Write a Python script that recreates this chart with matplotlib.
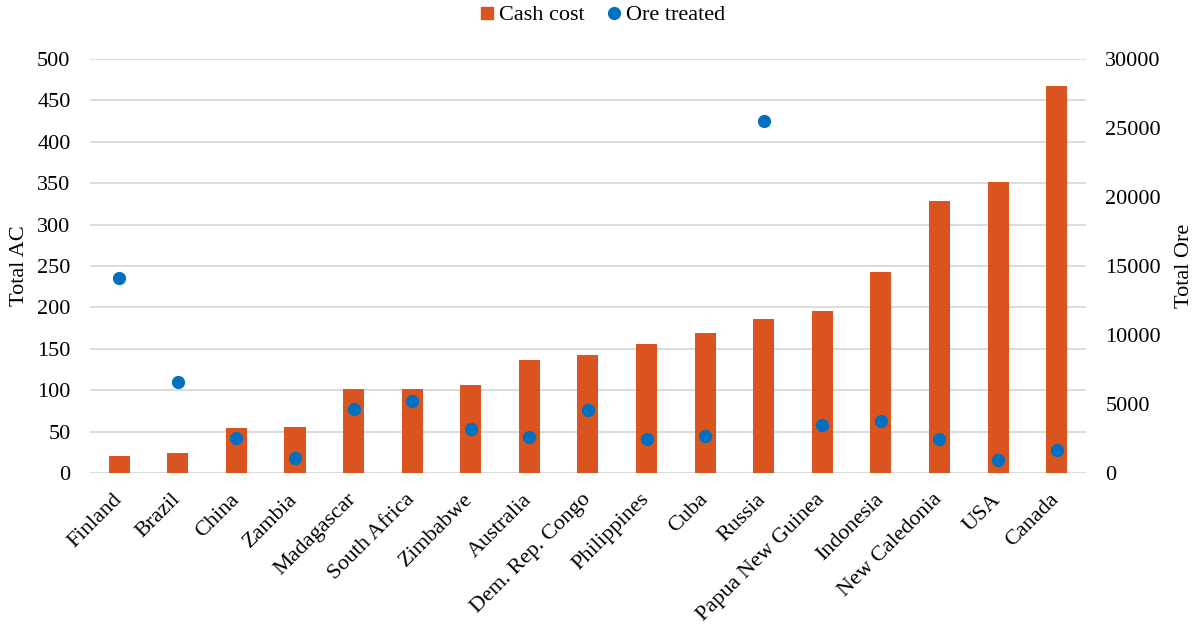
import matplotlib
matplotlib.use("Agg")
import matplotlib.pyplot as plt
from matplotlib.lines import Line2D
from matplotlib.transforms import ScaledTranslation

countries = ["Finland", "Brazil", "China", "Zambia", "Madagascar", "South Africa",
             "Zimbabwe", "Australia", "Dem. Rep. Congo", "Philippines", "Cuba",
             "Russia", "Papua New Guinea", "Indonesia", "New Caledonia", "USA", "Canada"]
cash_cost = [21, 24, 54, 56, 101, 102, 106, 137, 142, 156, 169, 186, 196, 243, 329, 352, 467]
ore_treated = [14130, 6570, 2540, 1060, 4660, 5190, 3160, 2630, 4540, 2460, 2680,
               25500, 3480, 3770, 2440, 920, 1670]

left_ticks = [0, 50, 100, 150, 200, 250, 300, 350, 400, 450, 500]
right_ticks = [0, 5000, 10000, 15000, 20000, 25000, 30000]

plt.rcParams["font.family"] = ["Liberation Serif", "DejaVu Serif"]

ORANGE = "#D9541E"
BLUE = "#0070C0"
GRID = "#D9D9D9"
FS = 16

fig = plt.figure(figsize=(12.01, 6.27), dpi=100)
ax = fig.add_axes([0.0749, 0.2456, 0.9042 - 0.0749, 0.9059 - 0.2456])
ax2 = ax.twinx()

x = list(range(len(countries)))
ax.bar(x, cash_cost, width=0.36, color=ORANGE, zorder=2)
ax2.plot(x, ore_treated, linestyle="none", marker="o", markersize=8.5,
         color=BLUE, zorder=3)

ax.set_xlim(-0.5, len(countries) - 0.5)
ax.set_ylim(0, 500)
ax2.set_ylim(0, 30000)
ax.set_yticks(left_ticks)
ax2.set_yticks(right_ticks)
ax.yaxis.grid(True, color=GRID, linewidth=1.3, zorder=0)
ax.set_axisbelow(True)

for a in (ax, ax2):
    for s in a.spines.values():
        s.set_visible(False)
    a.tick_params(axis="both", length=0, labelsize=FS)
ax.tick_params(axis="y", pad=14)
ax2.tick_params(axis="y", pad=14)

ax.set_xticks(x)
ax.set_xticklabels(countries, rotation=45, ha="right", rotation_mode="anchor")
ax.tick_params(axis="x", pad=8)
shift = ScaledTranslation(-7 / 100, -6 / 100, fig.dpi_scale_trans)
for lbl in ax.get_xticklabels():
    lbl.set_transform(lbl.get_transform() + shift)

ax.set_ylabel("Total AC", fontsize=FS, labelpad=6)
ax2.set_ylabel("Total Ore", fontsize=FS, labelpad=10)

handles = [
    Line2D([], [], linestyle="none", marker="s", markersize=8, color=ORANGE),
    Line2D([], [], linestyle="none", marker="o", markersize=8.5, color=BLUE),
]
fig.legend(handles, ["Cash cost", "Ore treated"], loc="center",
           bbox_to_anchor=(0.5, 0.976), ncol=2, frameon=False, fontsize=FS,
           handletextpad=0.05, columnspacing=0.8, handlelength=1.0)

fig.savefig("out.png", dpi=100)
